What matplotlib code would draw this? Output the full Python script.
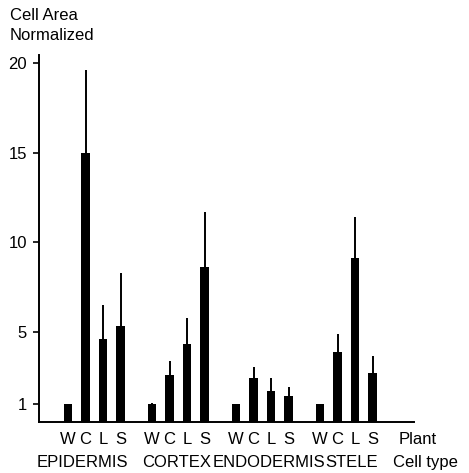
import matplotlib
matplotlib.use("Agg")
import matplotlib.pyplot as plt
from matplotlib.transforms import blended_transform_factory
import numpy as np

plt.rcParams['font.family'] = ['Liberation Sans', 'DejaVu Sans']

cell_types = ["EPIDERMIS", "CORTEX", "ENDODERMIS", "STELE"]
plants = ["W", "C", "L", "S"]
values = {
    "EPIDERMIS":  [1.0, 15.0, 4.6, 5.3],
    "CORTEX":     [0.95, 2.6, 4.3, 8.6],
    "ENDODERMIS": [0.95, 2.4, 1.7, 1.4],
    "STELE":      [0.95, 3.85, 9.1, 2.7],
}
errors = {
    "EPIDERMIS":  [0.0, 4.6, 1.9, 3.0],
    "CORTEX":     [0.08, 0.75, 1.5, 3.1],
    "ENDODERMIS": [0.0, 0.65, 0.7, 0.5],
    "STELE":      [0.0, 1.05, 2.3, 0.95],
}
y_ticks = [1, 5, 10, 15, 20]
group_label_x = [0.83, 6.2, 11.46, 16.23]

W, H = 469, 473
fig = plt.figure(figsize=(W / 100, H / 100), dpi=100)
left, right, bottom, top = 39, 414, 421.5, 55
ax = fig.add_axes([left / W, 1 - bottom / H, (right - left) / W, (bottom - top) / H])

group_step = 4.8
fs = 12
for g, ct in enumerate(cell_types):
    xs = g * group_step + np.arange(len(plants))
    v = np.array(values[ct])
    e = np.array(errors[ct])
    ax.bar(xs, v, width=0.51, color='black', zorder=2)
    ax.errorbar(xs, v, yerr=[np.zeros_like(e), e], fmt='none', ecolor='black',
                elinewidth=1.4, capsize=0, zorder=1)

trans = blended_transform_factory(ax.transData, ax.transAxes)
row1 = (bottom - 439) / (bottom - top)
row2 = (bottom - 462) / (bottom - top)
for g, ct in enumerate(cell_types):
    for i, p in enumerate(plants):
        ax.text(g * group_step + i, row1, p, transform=trans, ha='center', va='center', fontsize=fs)
    ax.text(group_label_x[g], row2, ct, transform=trans, ha='center', va='center', fontsize=fs)
ax.text(19.97, row1, "Plant", transform=trans, ha='center', va='center', fontsize=fs, clip_on=False)
ax.text(20.4, row2, "Cell type", transform=trans, ha='center', va='center', fontsize=fs, clip_on=False)

ax.set_xlim(-1.657, 19.77)
ax.set_ylim(0, 20.44)
ax.set_xticks([])
ax.set_yticks(y_ticks)
ax.set_yticklabels([str(t) for t in y_ticks], fontsize=fs)
ax.tick_params(axis='y', length=4.3, width=1.2, pad=4.5, direction='out')
for s in ['top', 'right']:
    ax.spines[s].set_visible(False)
for s in ['left', 'bottom']:
    ax.spines[s].set_linewidth(1.4)

fig.text(10 / W, 1 - 16 / H, "Cell Area", ha='left', va='center', fontsize=fs)
fig.text(10 / W, 1 - 36 / H, "Normalized", ha='left', va='center', fontsize=fs)

fig.savefig("out.png", dpi=100)
